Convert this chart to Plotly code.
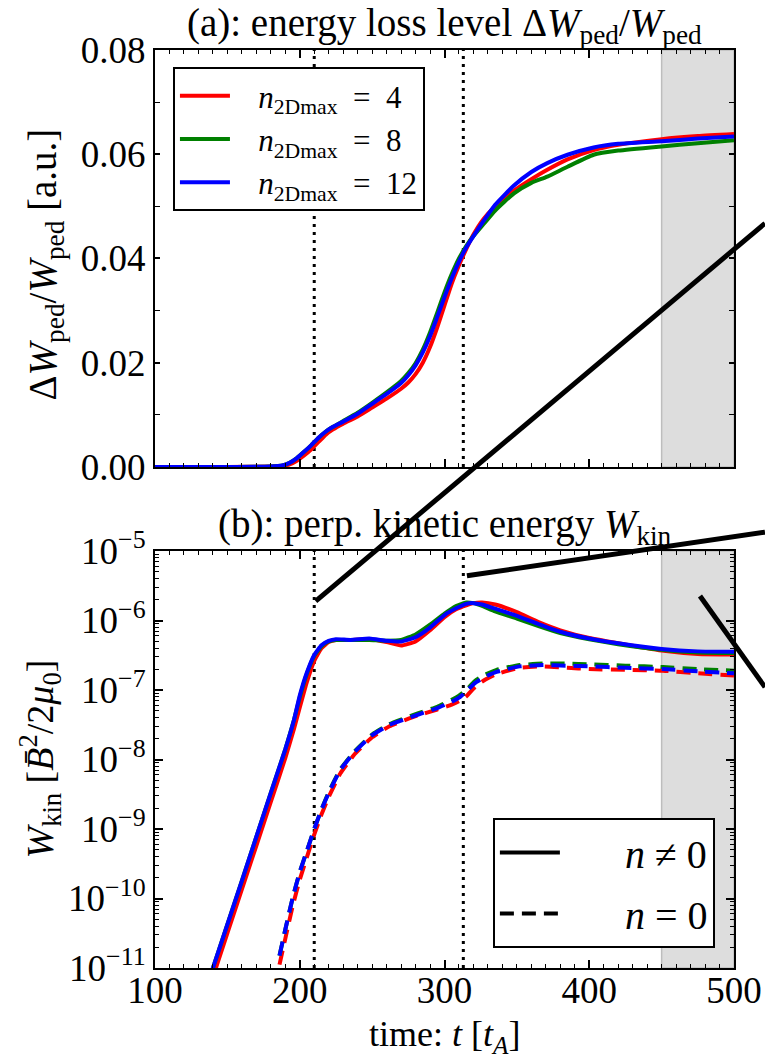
import numpy as np
import plotly.graph_objects as go

# ---------------- data ----------------
NB = "\u00a0"
series_names = [NB * 3 + "<i>n</i><sub>2Dmax</sub>\u2002=\u20024",
                NB * 3 + "<i>n</i><sub>2Dmax</sub>\u2002=\u20028",
                NB * 3 + "<i>n</i><sub>2Dmax</sub>\u2002=\u200212"]
series_colors = ["#ff0000", "#008000", "#0000ff"]

# (a) energy loss level
t_loss = [100, 150, 180, 188, 193, 198, 203, 208, 213, 218, 223, 230, 240, 250, 260, 270, 275, 280, 285,
          290, 295, 300, 305, 310, 315, 320, 327, 335, 348, 360, 371, 385, 403, 420, 450, 475, 500]
loss_n4 = [0, 0, 0.0001, 0.0002, 0.0005, 0.0012, 0.0022, 0.0034, 0.0048, 0.0062, 0.0072, 0.0083, 0.0097,
           0.0114, 0.0131, 0.0150, 0.0162, 0.0178, 0.0200, 0.0230, 0.0268, 0.0310, 0.0352, 0.0387, 0.0418,
           0.0446, 0.0476, 0.0500, 0.0530, 0.0552, 0.0570, 0.0590, 0.0608, 0.0618, 0.0629, 0.0635, 0.0639]
loss_n8 = [0, 0, 0.0001, 0.0003, 0.0008, 0.0017, 0.0029, 0.0042, 0.0056, 0.0068, 0.0077, 0.0088, 0.0104,
           0.0123, 0.0143, 0.0165, 0.0180, 0.0199, 0.0225, 0.0258, 0.0296, 0.0335, 0.0370, 0.0400, 0.0424,
           0.0443, 0.0466, 0.0492, 0.0525, 0.0545, 0.0557, 0.0576, 0.0599, 0.0607, 0.0615, 0.0621, 0.0627]
loss_n12 = [0, 0, 0.0001, 0.0003, 0.0008, 0.0017, 0.0029, 0.0042, 0.0056, 0.0068, 0.0077, 0.0087, 0.0102,
            0.0121, 0.0140, 0.0161, 0.0176, 0.0195, 0.0220, 0.0251, 0.0288, 0.0326, 0.0362, 0.0394, 0.0421,
            0.0443, 0.0472, 0.0503, 0.0540, 0.0566, 0.0583, 0.0599, 0.0613, 0.0620, 0.0625, 0.0630, 0.0634]

# (b) kinetic energy, n != 0 (solid)
t_kin = [130, 140, 160, 180, 190, 196, 200, 205, 210, 215, 220, 225, 235, 248, 260, 270, 280, 290, 300,
         308, 315, 320, 326, 335, 350, 365, 380, 400, 420, 450, 475, 500]
kin_n4 = [1.74e-12, 7.4e-12, 1.35e-10, 2.45e-9, 1.05e-8, 2.75e-8, 5.6e-8, 1.32e-7, 2.63e-7, 4.0e-7, 4.9e-7,
          5.25e-7, 5.25e-7, 5.37e-7, 4.9e-7, 4.37e-7, 5.0e-7, 7.24e-7, 1.12e-6, 1.45e-6, 1.66e-6, 1.78e-6,
          1.82e-6, 1.70e-6, 1.32e-6, 9.5e-7, 7.24e-7, 5.6e-7, 4.7e-7, 3.7e-7, 3.3e-7, 3.24e-7]
kin_n8 = [2.3e-12, 1.0e-11, 1.8e-10, 3.3e-9, 1.4e-8, 3.7e-8, 7.9e-8, 1.74e-7, 3.1e-7, 4.27e-7, 5.0e-7,
          5.25e-7, 5.25e-7, 5.25e-7, 5.13e-7, 5.25e-7, 6.3e-7, 8.7e-7, 1.26e-6, 1.62e-6, 1.82e-6, 1.78e-6,
          1.62e-6, 1.35e-6, 1.07e-6, 8.3e-7, 6.6e-7, 5.37e-7, 4.57e-7, 3.8e-7, 3.47e-7, 3.4e-7]
kin_n12 = [2.3e-12, 1.0e-11, 1.8e-10, 3.3e-9, 1.4e-8, 3.7e-8, 8.3e-8, 1.8e-7, 3.2e-7, 4.4e-7, 5.1e-7,
           5.4e-7, 5.25e-7, 5.5e-7, 5.1e-7, 5.0e-7, 5.75e-7, 7.9e-7, 1.2e-6, 1.5e-6, 1.74e-6, 1.78e-6,
           1.7e-6, 1.48e-6, 1.17e-6, 8.9e-7, 6.9e-7, 5.5e-7, 4.7e-7, 3.9e-7, 3.6e-7, 3.55e-7]

# (b) kinetic energy, n = 0 (dashed)
t_kin0 = [186, 190, 195, 200, 205, 210, 215, 220, 228, 238, 250, 262, 281, 295, 305, 310, 315, 321, 328,
          336, 352, 368, 385, 400, 425, 451, 475, 500]
kin0_n4 = [1.12e-11, 2.63e-11, 7.6e-11, 1.86e-10, 3.98e-10, 8.3e-10, 1.62e-9, 2.88e-9, 6.3e-9, 1.2e-8,
           2.09e-8, 3.02e-8, 4.27e-8, 5.25e-8, 6.17e-8, 6.9e-8, 8.1e-8, 1.1e-7, 1.41e-7, 1.7e-7, 2.09e-7,
           2.19e-7, 2.09e-7, 2.0e-7, 1.95e-7, 1.9e-7, 1.74e-7, 1.62e-7]
kin0_n8 = [1.51e-11, 3.55e-11, 1.0e-10, 2.4e-10, 4.9e-10, 1.0e-9, 1.9e-9, 3.4e-9, 7.2e-9, 1.32e-8,
           2.29e-8, 3.24e-8, 4.57e-8, 5.75e-8, 7.24e-8, 8.3e-8, 1.0e-7, 1.35e-7, 1.66e-7, 1.95e-7, 2.29e-7,
           2.4e-7, 2.4e-7, 2.34e-7, 2.24e-7, 2.14e-7, 2.0e-7, 1.9e-7]
kin0_n12 = [1.51e-11, 3.55e-11, 1.0e-10, 2.4e-10, 4.9e-10, 1.0e-9, 1.9e-9, 3.3e-9, 7.1e-9, 1.29e-8,
            2.24e-8, 3.16e-8, 4.37e-8, 5.5e-8, 6.76e-8, 7.76e-8, 9.55e-8, 1.26e-7, 1.55e-7, 1.82e-7,
            2.19e-7, 2.29e-7, 2.24e-7, 2.19e-7, 2.09e-7, 2.0e-7, 1.86e-7, 1.74e-7]

# marked times and shaded window
event_times = [210, 313]
shade_window = [450, 500]

# connector lines (start in panel-b data coords, end beyond the right edge)
connectors = [((211, 1.9e-6), (521.4, 0.52)),
              ((315.5, 4.4e-6), (521.4, 1.87e-5)),
              ((476.5, 2.25e-6), (521.4, 1.1e-7))]

x_range = [100, 500]
y1_range = [0, 0.08]
y2_log_range = [-11, -5]
y2_ticks = [1e-11, 1e-10, 1e-9, 1e-8, 1e-7, 1e-6, 1e-5]
y2_ticktext = ["10<sup>−11</sup>", "10<sup>−10</sup>", "10<sup>−9</sup>", "10<sup>−8</sup>",
               "10<sup>−7</sup>", "10<sup>−6</sup>", "10<sup>−5</sup>"]

title_a = "(a): energy loss level Δ<i>W</i><sub>ped</sub>/<i>W</i><sub>ped</sub>"
title_b = "(b): perp. kinetic energy <i>W</i><sub>kin</sub>"
ylabel_a = "Δ<i>W</i><sub>ped</sub>/<i>W</i><sub>ped</sub> [a.u.]"
ylabel_b = "<i>W</i><sub>kin</sub> [<i>B̄</i><sup>2</sup>/2<i>μ</i><sub>0</sub>]"
xlabel = "time: <i>t</i> [<i>t</i><sub><i>A</i></sub>]"

# ---------------- figure ----------------
FONT = "Liberation Serif"
TOP_DOM = [0.5458, 1.0]
BOT_DOM = [0.0, 0.4542]
DASH = "14px,8px"

fig = go.Figure()

for name, col, yv in zip(series_names, series_colors, [loss_n4, loss_n8, loss_n12]):
    fig.add_trace(go.Scatter(x=t_loss, y=yv, mode="lines", name=name, xaxis="x", yaxis="y",
                             line=dict(color=col, width=4, shape="spline", smoothing=0.5),
                             legend="legend", legendgroup=name, showlegend=True))

for col, yv in zip(series_colors, [kin_n4, kin_n8, kin_n12]):
    fig.add_trace(go.Scatter(x=t_kin, y=yv, mode="lines", xaxis="x2", yaxis="y2", showlegend=False,
                             line=dict(color=col, width=4, shape="spline", smoothing=0.4)))
for col, yv in zip(series_colors, [kin0_n4, kin0_n8, kin0_n12]):
    fig.add_trace(go.Scatter(x=t_kin0, y=yv, mode="lines", xaxis="x2", yaxis="y2", showlegend=False,
                             line=dict(color=col, width=4, dash=DASH, shape="spline", smoothing=0.4)))

# style legend entries
fig.add_trace(go.Scatter(x=[None], y=[None], mode="lines", name=NB * 6 + "<i>n</i> ≠ 0", xaxis="x2", yaxis="y2",
                         line=dict(color="black", width=4), legend="legend2", legendgroup="a"))
fig.add_trace(go.Scatter(x=[None], y=[None], mode="lines", name=NB * 6 + "<i>n</i> = 0", xaxis="x2", yaxis="y2",
                         line=dict(color="black", width=4, dash=DASH), legend="legend2", legendgroup="b"))

shapes = []
for xr, yr in [("x", "y domain"), ("x2", "y2 domain")]:
    shapes.append(dict(type="rect", xref=xr, yref=yr, x0=shade_window[0], x1=shade_window[1], y0=0, y1=1,
                       fillcolor="#dddddd", line=dict(color="#bdbdbd", width=1.5), layer="below"))
    for te in event_times:
        shapes.append(dict(type="line", xref=xr, yref=yr, x0=te, x1=te, y0=0, y1=1,
                           line=dict(color="black", width=3, dash="3px,5px"), layer="below"))


def to_paper_bottom(t, w):
    xp = (t - x_range[0]) / (x_range[1] - x_range[0])
    yp = BOT_DOM[0] + (np.log10(w) - y2_log_range[0]) / (y2_log_range[1] - y2_log_range[0]) * (BOT_DOM[1] - BOT_DOM[0])
    return xp, yp


for (p0, p1) in connectors:
    x0, y0 = to_paper_bottom(*p0)
    x1, y1 = to_paper_bottom(*p1)
    shapes.append(dict(type="line", xref="paper", yref="paper", x0=x0, y0=y0, x1=x1, y1=y1,
                       line=dict(color="black", width=5), layer="above"))

axis_common = dict(showline=True, linecolor="black", linewidth=2, mirror="allticks", ticks="inside",
                   tickcolor="black", showgrid=False, zeroline=False, automargin=False,
                   tickfont=dict(family=FONT, size=37, color="black"))

minor_log = [m * 10.0 ** k for k in range(-11, -5) for m in range(2, 10)]

fig.update_layout(
    template="none",
    width=765, height=1060,
    margin=dict(l=155, r=31, t=50, b=92),
    paper_bgcolor="white", plot_bgcolor="white",
    font=dict(family=FONT, color="black"),
    xaxis=dict(domain=[0, 1], anchor="y", range=x_range, dtick=100, tick0=100, ticklen=8, tickwidth=1.5,
               showticklabels=False,
               minor=dict(ticks="inside", dtick=10, ticklen=4, tickwidth=1.2, tickcolor="black"),
               **axis_common),
    yaxis=dict(domain=TOP_DOM, anchor="x", range=y1_range, dtick=0.02, tick0=0, tickformat=".2f",
               ticklen=5, tickwidth=1.5,
               minor=dict(ticks="inside", dtick=0.01, ticklen=5, tickwidth=1.2, tickcolor="black"),
               **axis_common),
    xaxis2=dict(domain=[0, 1], anchor="y2", range=x_range, dtick=100, tick0=100, ticklen=8, tickwidth=1.5,
                ticklabelstandoff=-11,
                minor=dict(ticks="inside", dtick=10, ticklen=4, tickwidth=1.2, tickcolor="black"),
                **axis_common),
    yaxis2=dict(domain=BOT_DOM, anchor="x2", type="log", range=y2_log_range,
                tickvals=y2_ticks, ticktext=y2_ticktext, ticklen=8, tickwidth=1.5,
                minor=dict(ticks="inside", tickvals=minor_log, ticklen=4, tickwidth=1.2, tickcolor="black"),
                **axis_common),
    legend=dict(x=0.031, y=0.9815, xanchor="left", yanchor="top", bgcolor="white",
                bordercolor="black", borderwidth=2, font=dict(family=FONT, size=31),
                tracegroupgap=0, itemwidth=50),
    legend2=dict(x=0.967, y=0.0218, xanchor="right", yanchor="bottom", bgcolor="white",
                 bordercolor="black", borderwidth=2, font=dict(family=FONT, size=40),
                 tracegroupgap=6, itemwidth=60),
    shapes=shapes,
    annotations=[
        dict(text=title_a, xref="paper", yref="paper", x=0.5, y=TOP_DOM[1], xanchor="center",
             yanchor="bottom", yshift=-2, showarrow=False, font=dict(family=FONT, size=39)),
        dict(text=title_b, xref="paper", yref="paper", x=0.5, y=BOT_DOM[1], xanchor="center",
             yanchor="bottom", yshift=-2, showarrow=False, font=dict(family=FONT, size=39)),
        dict(text=xlabel, xref="paper", yref="paper", x=0.5, y=0, xanchor="center", yanchor="middle",
             yshift=-68, showarrow=False, font=dict(family=FONT, size=36)),
        dict(text=ylabel_a, xref="paper", yref="paper", x=0, y=(TOP_DOM[0] + TOP_DOM[1]) / 2,
             xanchor="center", yanchor="middle", xshift=-110, yshift=-6, textangle=-90,
             showarrow=False, font=dict(family=FONT, size=39)),
        dict(text=ylabel_b, xref="paper", yref="paper", x=0, y=(BOT_DOM[0] + BOT_DOM[1]) / 2,
             xanchor="center", yanchor="middle", xshift=-115, textangle=-90,
             showarrow=False, font=dict(family=FONT, size=38)),
    ],
)

fig.write_html("out.html")
